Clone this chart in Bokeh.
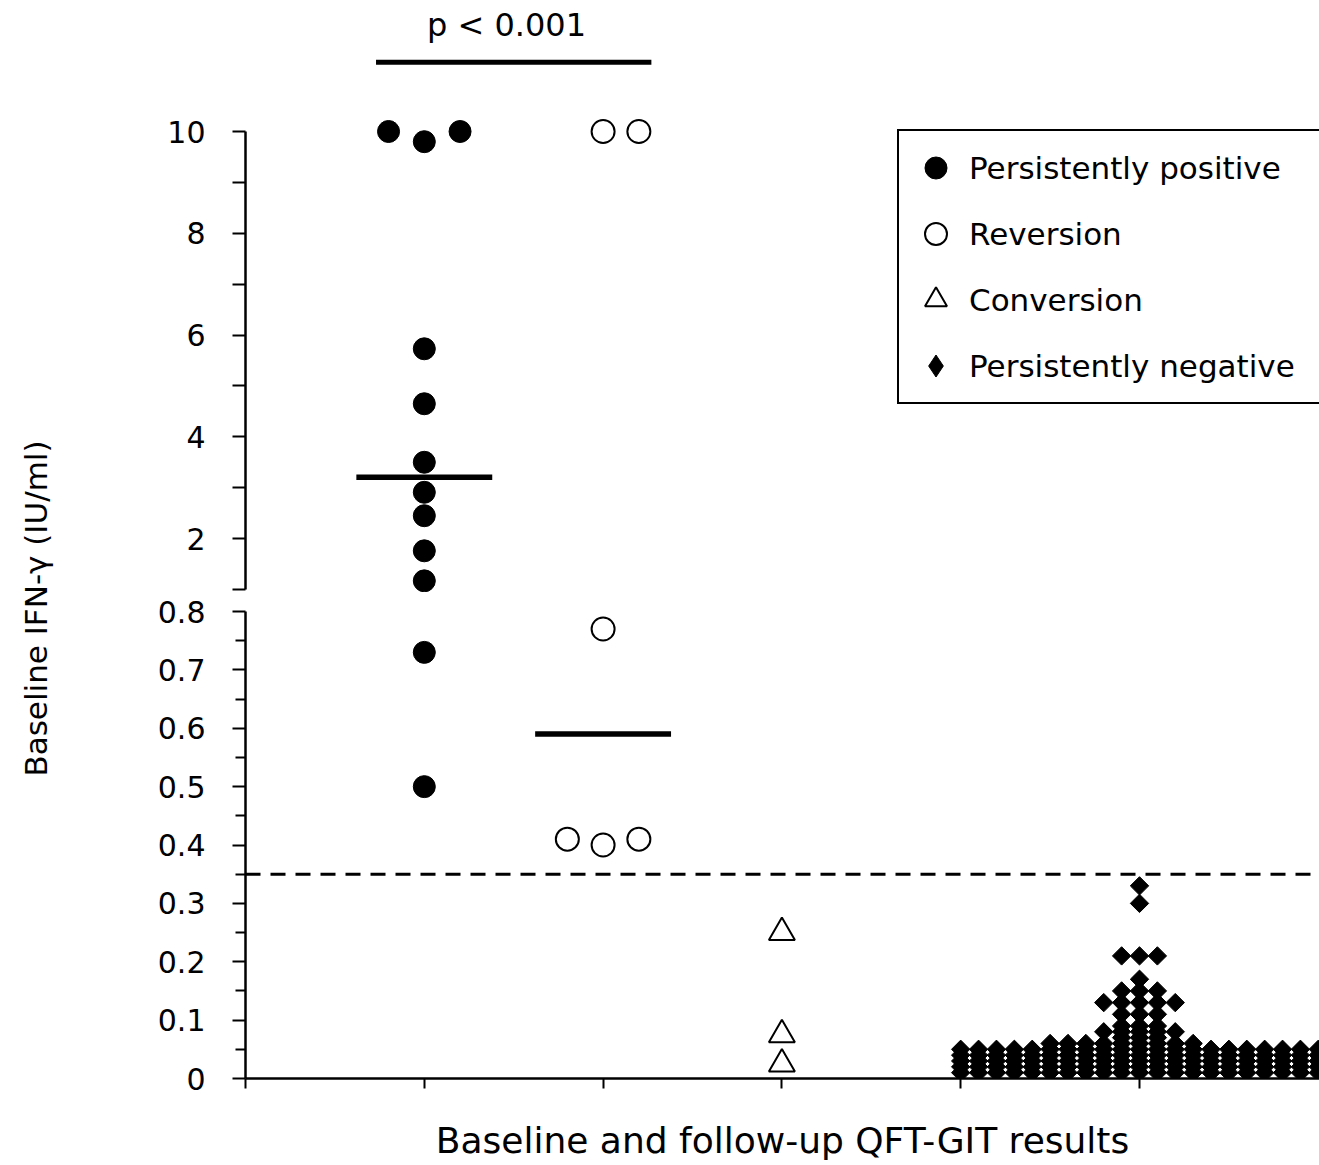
import numpy as np
from bokeh.plotting import figure
from bokeh.models import (Range1d, FixedTicker, ColumnDataSource, CDSView, BooleanFilter,
                          Legend, LegendItem, Label, Span)
from bokeh.layouts import row, column
from bokeh.embed import file_html
from bokeh.resources import INLINE

# ---------------- data ----------------
group_names = ["Persistently positive", "Reversion", "Conversion", "Persistently negative"]
group_x = [1, 2, 3, 5]

pos_values = [10.0, 9.8, 10.0, 5.73, 4.65, 3.50, 2.91, 2.45, 1.76, 1.17, 0.73, 0.50]
pos_jitter = [-0.2, 0.0, 0.2, 0, 0, 0, 0, 0, 0, 0, 0, 0]

rev_values = [10.0, 10.0, 0.77, 0.41, 0.40, 0.41]
rev_jitter = [0.0, 0.2, 0.0, -0.2, 0.0, 0.2]

conv_values = [0.25, 0.075, 0.025]
conv_jitter = [0.0, 0.0, 0.0]

# persistently negative: beeswarm columns (column index -> values)
neg_columns = {
    -10: [0.01, 0.02, 0.03, 0.04, 0.05],
    -9: [0.01, 0.02, 0.03, 0.04, 0.05],
    -8: [0.01, 0.02, 0.03, 0.04, 0.05],
    -7: [0.01, 0.02, 0.03, 0.04, 0.05],
    -6: [0.01, 0.02, 0.03, 0.04, 0.05],
    -5: [0.01, 0.02, 0.03, 0.04, 0.05, 0.06],
    -4: [0.01, 0.02, 0.03, 0.04, 0.05, 0.06],
    -3: [0.01, 0.02, 0.03, 0.04, 0.05, 0.06],
    -2: [0.01, 0.02, 0.03, 0.04, 0.05, 0.06, 0.08, 0.13],
    -1: [0.01, 0.02, 0.03, 0.04, 0.05, 0.06, 0.07, 0.08, 0.09, 0.11, 0.13, 0.15, 0.21],
    0: [0.01, 0.02, 0.03, 0.04, 0.05, 0.06, 0.07, 0.08, 0.09, 0.11, 0.13, 0.15, 0.17, 0.21, 0.30, 0.33],
    1: [0.01, 0.02, 0.03, 0.04, 0.05, 0.06, 0.07, 0.08, 0.09, 0.11, 0.13, 0.15, 0.21],
    2: [0.01, 0.02, 0.03, 0.04, 0.05, 0.06, 0.08, 0.13],
    3: [0.01, 0.02, 0.03, 0.04, 0.05, 0.06],
    4: [0.01, 0.02, 0.03, 0.04, 0.05],
    5: [0.01, 0.02, 0.03, 0.04, 0.05],
    6: [0.01, 0.02, 0.03, 0.04, 0.05],
    7: [0.01, 0.02, 0.03, 0.04, 0.05],
    8: [0.01, 0.02, 0.03, 0.04, 0.05],
    9: [0.01, 0.02, 0.03, 0.04, 0.05],
    10: [0.01, 0.02, 0.03, 0.04, 0.05],
}
swarm_step = 0.1

cutoff = 0.35
p_text = "p < 0.001"
upper_ticks = [2, 4, 6, 8, 10]
upper_minor = [1, 3, 5, 7, 9]
lower_ticks = [0, 0.1, 0.2, 0.3, 0.4, 0.5, 0.6, 0.7, 0.8]
lower_labels = ["0", "0.1", "0.2", "0.3", "0.4", "0.5", "0.6", "0.7", "0.8"]
lower_minor = [0.05, 0.15, 0.25, 0.35, 0.45, 0.55, 0.65, 0.75]
x_ticks = [0, 1, 2, 3, 4, 5]
break_at = 0.9

neg_values = [v for k in sorted(neg_columns) for v in neg_columns[k]]
neg_jitter = [k * swarm_step for k in sorted(neg_columns) for v in neg_columns[k]]

# ---------------- layout constants ----------------
FONT = "DejaVu Sans"
PAGE_W, PAGE_H = 1319, 1165
TITLE_W = 68
FIG_W = PAGE_W - TITLE_W
LEFT = 177
FRAME_W = FIG_W - LEFT
PX_PER_CAT = 178.8
TOP_H = 592
BOT_H = PAGE_H - TOP_H
BOT_BORDER = 87

xr = Range1d(0, FRAME_W / PX_PER_CAT)
u_per_px = 9 / 458.0
top_yr = Range1d(1 - (TOP_H - 589) * u_per_px, 10 + 131 * u_per_px)
bot_frame = BOT_H - BOT_BORDER
bot_yr = Range1d(0, 0.8 * bot_frame / 467.0)


def make_source(vals, jit, cx):
    vals = np.asarray(vals, float)
    return ColumnDataSource(dict(x=cx + np.asarray(jit, float), y=vals)), vals >= break_at


def base_fig(h, yr, bottom_border, xaxis):
    f = figure(width=FIG_W, height=h, x_range=xr, y_range=yr,
               x_axis_location="below" if xaxis else None,
               min_border_left=LEFT, min_border_right=0, min_border_top=0,
               min_border_bottom=bottom_border, toolbar_location=None,
               output_backend="svg", outline_line_color=None)
    f.grid.visible = False
    ax = f.yaxis[0]
    ax.axis_line_color = "black"
    ax.axis_line_width = 2.5
    ax.major_tick_line_color = "black"
    ax.minor_tick_line_color = "black"
    ax.major_tick_line_width = 2
    ax.minor_tick_line_width = 2
    ax.major_tick_in = 0
    ax.minor_tick_in = 0
    ax.major_tick_out = 13
    ax.major_label_text_font = FONT
    ax.major_label_text_font_size = "30px"
    ax.major_label_text_color = "black"
    ax.major_label_standoff = 27
    return f


top = base_fig(TOP_H, top_yr, 0, False)
bot = base_fig(BOT_H, bot_yr, BOT_BORDER, True)

top.yaxis[0].ticker = FixedTicker(ticks=upper_ticks, minor_ticks=upper_minor)
top.yaxis[0].bounds = (1, 10)
top.yaxis[0].minor_tick_out = 13

bot.yaxis[0].ticker = FixedTicker(ticks=lower_ticks, minor_ticks=lower_minor)
bot.yaxis[0].bounds = (0, 0.8)
bot.yaxis[0].minor_tick_out = 10
bot.yaxis[0].major_label_overrides = {t: s for t, s in zip(lower_ticks, lower_labels)}

xa = bot.xaxis[0]
xa.ticker = FixedTicker(ticks=x_ticks, minor_ticks=[])
xa.axis_line_color = "black"
xa.axis_line_width = 2.5
xa.major_tick_line_color = "black"
xa.major_tick_line_width = 2
xa.major_tick_in = 0
xa.major_tick_out = 10
xa.major_label_overrides = {t: "" for t in x_ticks}
xa.major_label_standoff = 0
xa.axis_label = "Baseline and follow-up QFT-GIT results"
xa.axis_label_text_font = FONT
xa.axis_label_text_font_size = "36px"
xa.axis_label_text_font_style = "normal"
xa.axis_label_text_color = "black"
xa.axis_label_standoff = 31

styles = [
    dict(marker="circle", size=22, fill_color="black", line_color="black", line_width=1),
    dict(marker="circle", size=23, fill_color="white", line_color="black", line_width=2),
    dict(marker="triangle", size=26, fill_color="white", line_color="black", line_width=2),
    dict(marker="square", size=13, angle=np.pi / 4, fill_color="black", line_color="black", line_width=1),
]
groups = [(pos_values, pos_jitter), (rev_values, rev_jitter),
          (conv_values, conv_jitter), (neg_values, neg_jitter)]

for (vals, jit), cx, st in zip(groups, group_x, styles):
    src, upper = make_source(vals, jit, cx)
    top.scatter("x", "y", source=src, view=CDSView(filter=BooleanFilter(list(upper))), **st)
    bot.scatter("x", "y", source=src, view=CDSView(filter=BooleanFilter(list(~upper))), **st)

# legend swatches (no visible point: NaN position)
legend_styles = styles[:3] + [dict(marker="diamond", size=14, fill_color="black", line_color="black")]
legend_renderers = []
for st in legend_styles:
    st = {k: v for k, v in st.items() if k != "angle"}
    legend_renderers.append(top.scatter(x=[np.nan], y=[np.nan], **st))

# medians
for (vals, jit), cx in zip(groups[:2], group_x[:2]):
    m = float(np.median(vals))
    f = top if m >= break_at else bot
    f.segment(x0=[cx - 0.38], x1=[cx + 0.38], y0=[m], y1=[m], line_width=5.5, line_color="black")

# cutoff line
bot.add_layout(Span(location=cutoff, dimension="width", line_color="black",
                    line_width=3, line_dash="15 10"))

# significance bracket
top.line(x=[group_x[0] - 0.27, group_x[1] + 0.27], y=[11.36, 11.36], line_width=5, line_color="black")
top.add_layout(Label(x=(group_x[0] + group_x[1]) / 2 - 0.04, y=12.1, text=p_text,
                     text_align="center", text_baseline="alphabetic",
                     text_font=FONT, text_font_size="32px", text_color="black"))

legend = Legend(
    items=[LegendItem(label=n, renderers=[r]) for n, r in zip(group_names, legend_renderers)],
    location=(652, TOP_H - 404), glyph_width=55, glyph_height=55, label_height=55,
    spacing=11, padding=9, label_standoff=6, label_width=420, margin=0,
    border_line_color="black", border_line_width=2.5, border_line_alpha=1,
    background_fill_color="white", background_fill_alpha=1,
    label_text_font=FONT, label_text_font_size="31px", label_text_color="black")
top.add_layout(legend)

# y-axis title spanning both panels
tfig = figure(width=TITLE_W, height=PAGE_H, x_range=(0, 1), y_range=(0, 1),
              x_axis_location=None, y_axis_location=None, min_border=0,
              toolbar_location=None, output_backend="svg", outline_line_color=None)
tfig.grid.visible = False
tfig.add_layout(Label(x=35 / TITLE_W, y=1 - 608 / PAGE_H, text="Baseline IFN-γ (IU/ml)",
                      angle=np.pi / 2, text_align="center", text_baseline="middle",
                      text_font=FONT, text_font_size="31px", text_color="black"))

layout = row(tfig, column(top, bot))
open("out.html", "w").write(file_html(layout, INLINE))
